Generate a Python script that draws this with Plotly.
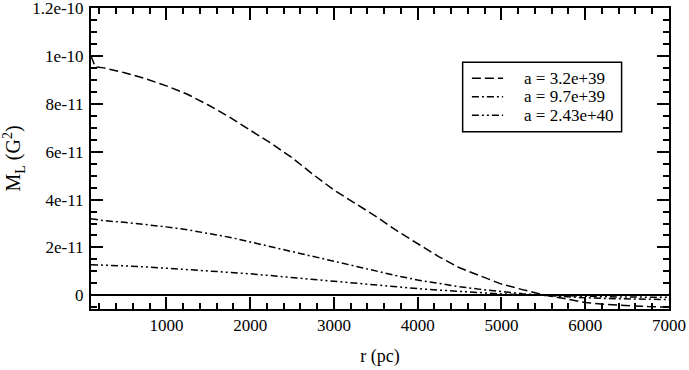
import plotly.graph_objects as go

# radius (pc)
r_pc = [100, 150, 250, 500, 750, 1000, 1250, 1500, 1750, 2000, 2250, 2500,
        2750, 3000, 3250, 3500, 3750, 4000, 4250, 4500, 4750, 5000, 5250,
        5500, 5750, 6000, 6250, 6500, 6750, 7000]

# M_L values in units of 1e-11 G^2
m_a1 = [10.0, 9.55, 9.5, 9.3, 9.05, 8.75, 8.4, 7.95, 7.45, 6.9, 6.35, 5.75,
        5.05, 4.4, 3.85, 3.3, 2.7, 2.15, 1.62, 1.15, 0.8, 0.47, 0.24,
        0.02, -0.13, -0.3, -0.38, -0.44, -0.47, -0.49]
m_a2 = [3.2, 3.17, 3.12, 3.05, 2.96, 2.86, 2.74, 2.6, 2.43, 2.23, 2.03, 1.83,
        1.62, 1.42, 1.2, 1.0, 0.82, 0.64, 0.49, 0.36, 0.25, 0.15, 0.07,
        0.0, -0.06, -0.1, -0.13, -0.15, -0.17, -0.18]
m_a3 = [1.28, 1.27, 1.26, 1.23, 1.19, 1.14, 1.09, 1.03, 0.96, 0.9, 0.82, 0.74,
        0.66, 0.58, 0.5, 0.42, 0.35, 0.28, 0.22, 0.16, 0.11, 0.06, 0.03,
        0.0, -0.03, -0.05, -0.06, -0.07, -0.08, -0.08]

series_names = ["a = 3.2e+39", "a = 9.7e+39", "a = 2.43e+40"]

x_tickvals = [1000, 2000, 3000, 4000, 5000, 6000, 7000]
x_ticktext = ["1000", "2000", "3000", "4000", "5000", "6000", "7000"]
y_tickvals = [0, 2e-11, 4e-11, 6e-11, 8e-11, 1e-10, 1.2e-10]
y_ticktext = ["0", "2e-11", "4e-11", "6e-11", "8e-11", "1e-10", "1.2e-10"]

FONT = "Times New Roman, Liberation Serif, DejaVu Serif, serif"

fig = go.Figure()

dashes = ["9px,4px", "7px,3px,2px,3px", "7px,3px,2px,3px,2px,3px"]
for name, vals, dash in zip(series_names, [m_a1, m_a2, m_a3], dashes):
    fig.add_trace(go.Scatter(
        x=r_pc,
        y=[v * 1e-11 for v in vals],
        mode="lines",
        name=name,
        line=dict(color="black", width=1.5, dash=dash),
        showlegend=False
    ))

axis_common = dict(
    showline=True,
    linecolor="black",
    linewidth=2,
    mirror="allticks",
    ticks="inside",
    ticklen=12,
    tickwidth=1.5,
    tickcolor="black",
    showgrid=False,
    automargin=False,
    ticklabeloverflow="allow",
    tickfont=dict(family=FONT, size=17, color="black"),
)

fig.update_xaxes(
    range=[100, 7000],
    tickvals=x_tickvals,
    ticktext=x_ticktext,
    zeroline=False,
    minor=dict(ticks="inside", ticklen=6, tickwidth=1.5, tickcolor="black",
               dtick=200, tick0=0, showgrid=False),
    title=dict(text="r (pc)", font=dict(family=FONT, size=18, color="black"), standoff=15),
    **axis_common
)

fig.update_yaxes(
    range=[-5.7e-12, 1.2001e-10],
    tickvals=y_tickvals,
    ticktext=y_ticktext,
    zeroline=True,
    zerolinecolor="black",
    zerolinewidth=1.5,
    ticklabelstandoff=2,
    minor=dict(ticks="inside", ticklen=6, tickwidth=1.5, tickcolor="black",
               dtick=5e-12, tick0=0, showgrid=False),
    title=dict(text="M<sub>L</sub> (G<sup>2</sup>)",
               font=dict(family=FONT, size=20, color="black"), standoff=11),
    **axis_common
)

# legend box drawn by hand (xmgrace style), in plot-area fractions
fig.add_shape(type="rect", xref="x domain", yref="y domain",
              x0=0.643, x1=0.918, y0=0.589, y1=0.820,
              line=dict(color="black", width=1.5), fillcolor="white", layer="above")
row_y = [0.767, 0.705, 0.644]
for name, dash, yy in zip(series_names, dashes, row_y):
    fig.add_shape(type="line", xref="x domain", yref="y domain",
                  x0=0.659, x1=0.713, y0=yy, y1=yy,
                  line=dict(color="black", width=1.5, dash=dash), layer="above")
    fig.add_annotation(xref="x domain", yref="y domain", x=0.745, y=yy,
                       text=name, showarrow=False, xanchor="left", yanchor="middle",
                       font=dict(family=FONT, size=17, color="black"))

fig.update_layout(
    width=689,
    height=370,
    margin=dict(l=91, r=20, t=8, b=61, autoexpand=False),
    paper_bgcolor="white",
    plot_bgcolor="white",
    font=dict(family=FONT, size=17, color="black"),
    showlegend=False,
)

# the default page body margin shifts the plot by 8px; remove it
fig.write_html("out.html", config={"displayModeBar": False},
               post_script="document.body.style.margin='0';")
